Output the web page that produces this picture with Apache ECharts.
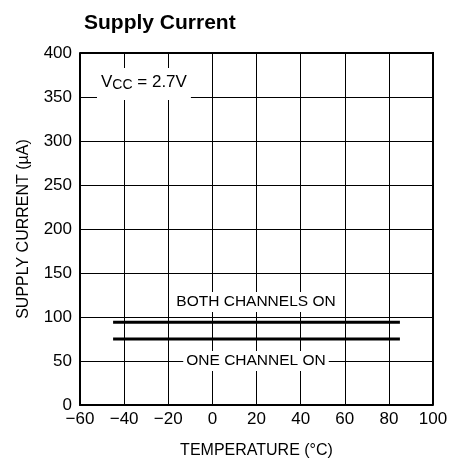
<!DOCTYPE html>
<html>
<head>
<meta charset="utf-8">
<script src="https://cdn.jsdelivr.net/npm/echarts@6/dist/echarts.min.js"></script>
<style>
  html, body { margin: 0; padding: 0; background: #fff; }
  #chart { width: 453px; height: 466px; }
</style>
</head>
<body>
<div id="chart"></div>
<script>
// temperature (°C) and supply current (µA)
const temps = [-45, 85];
const bothOn = [94, 94];
const oneOn = [75, 75];
const xTicks = [-60, -40, -20, 0, 20, 40, 60, 80, 100];
const yTicks = [0, 50, 100, 150, 200, 250, 300, 350, 400];

const font = '"Liberation Sans Narrow", "Liberation Sans", Arial, sans-serif';
const chart = echarts.init(document.getElementById('chart'));

chart.setOption({
  animation: false,
  backgroundColor: '#fff',
  textStyle: { fontFamily: font, color: '#000' },
  title: {
    text: 'Supply Current',
    left: 79,
    top: 8,
    textStyle: { fontFamily: font, fontSize: 21, fontWeight: 'bold', color: '#000' }
  },
  grid: { left: 80, right: 20, top: 53, bottom: 61 },
  xAxis: {
    type: 'value',
    min: xTicks[0],
    max: xTicks[xTicks.length - 1],
    interval: 20,
    name: 'TEMPERATURE (°C)',
    nameLocation: 'middle',
    nameGap: 38,
    nameTextStyle: { fontFamily: font, fontSize: 16, color: '#000' },
    axisLine: { onZero: false, lineStyle: { color: '#000', width: 2 } },
    axisTick: { show: false },
    axisLabel: {
      fontFamily: font, fontSize: 17, color: '#000', margin: 6,
      formatter: v => (v < 0 ? '\u2212' + Math.abs(v) : '' + v)
    },
    splitLine: { lineStyle: { color: '#000', width: 1 } }
  },
  yAxis: {
    type: 'value',
    min: yTicks[0],
    max: yTicks[yTicks.length - 1],
    interval: 50,
    name: 'SUPPLY CURRENT (µA)',
    nameLocation: 'middle',
    nameGap: 48,
    nameTextStyle: { fontFamily: font, fontSize: 16, color: '#000' },
    axisLine: { show: true, onZero: false, lineStyle: { color: '#000', width: 2 } },
    axisTick: { show: false },
    axisLabel: { fontFamily: font, fontSize: 17, color: '#000', margin: 8 },
    splitLine: { lineStyle: { color: '#000', width: 1 } }
  },
  graphic: [
    {
      type: 'rect',
      shape: { x: 432, y: 53, width: 2, height: 352 },
      style: { fill: '#000' },
      z: 5
    },
    {
      type: 'rect',
      shape: { x: 80, y: 52, width: 354, height: 2 },
      style: { fill: '#000' },
      z: 5
    },
    {
      type: 'text',
      left: 97, top: 68,
      style: {
        rich: {
          n: { fontFamily: font, fontSize: 17, fill: '#000' },
          s: { fontFamily: font, fontSize: 14, fill: '#000', padding: [6, 0, 0, 0] }
        },
        text: '{n|V}{s|CC}{n| = 2.7V}',
        backgroundColor: '#fff',
        padding: [4, 4, 8, 4]
      },
      z: 10
    },
    {
      type: 'text',
      x: 256, y: 302,
      style: {
        text: 'BOTH CHANNELS ON',
        font: '15.5px ' + font,
        fill: '#000',
        align: 'center',
        verticalAlign: 'middle',
        backgroundColor: '#fff',
        padding: [2, 3, 2, 3]
      },
      z: 10
    },
    {
      type: 'text',
      x: 256, y: 361,
      style: {
        text: 'ONE CHANNEL ON',
        font: '15.5px ' + font,
        fill: '#000',
        align: 'center',
        verticalAlign: 'middle',
        backgroundColor: '#fff',
        padding: [2, 3, 2, 3]
      },
      z: 10
    }
  ],
  series: [
    {
      name: 'BOTH CHANNELS ON',
      type: 'line',
      data: temps.map((t, i) => [t, bothOn[i]]),
      symbol: 'none',
      lineStyle: { color: '#000', width: 3 }
    },
    {
      name: 'ONE CHANNEL ON',
      type: 'line',
      data: temps.map((t, i) => [t, oneOn[i]]),
      symbol: 'none',
      lineStyle: { color: '#000', width: 3 }
    }
  ]
});
</script>
</body>
</html>
